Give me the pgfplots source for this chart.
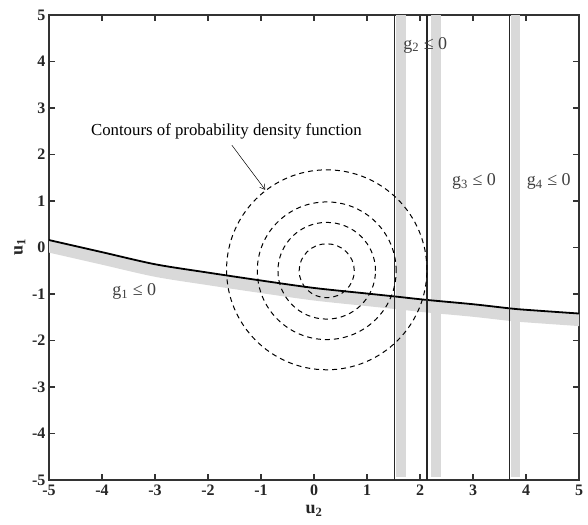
\documentclass[border=0pt]{standalone}
\usepackage{pgfplots}
\pgfplotsset{compat=1.18}
\usepgfplotslibrary{fillbetween}
\usepackage{fontspec}
\setmainfont{Liberation Serif}
\usetikzlibrary{arrows.meta}
\pgfplotstableread{
x y
-5 0.16
-4 -0.10
-3 -0.36
-2 -0.54
-1 -0.71
0 -0.87
1 -0.99
1.5 -1.05
2.15 -1.13
3 -1.22
3.7 -1.31
4 -1.34
5 -1.42
}\gone
\pgfplotstableread{
x y
-5 -0.11
-4 -0.37
-3 -0.63
-2 -0.81
-1 -0.98
0 -1.14
1 -1.26
1.5 -1.32
2.15 -1.40
3 -1.49
3.7 -1.58
4 -1.61
5 -1.69
}\goneband
\begin{document}
\begin{tikzpicture}
\begin{axis}[
  scale only axis, width=530pt, height=465pt,
  xmin=-5, xmax=5, ymin=-5, ymax=5,
  xtick={-5,...,5}, ytick={-5,...,5},
  tick align=inside, major tick length=6pt,
  axis line style={line width=1.1pt, black!80},
  tick style={line width=1.1pt, black!80},
  /pgf/number format/assume math mode=true,
  ticklabel style={font=\bfseries\fontsize{16}{16}\selectfont, text=black!85},
  xticklabel style={yshift=-1pt},
  xlabel={\textbf{u}\textsubscript{\textbf{2}}},
  ylabel={\textbf{u}\textsubscript{\textbf{1}}},
  label style={font=\fontsize{18}{18}\selectfont, text=black!85},
  xlabel style={yshift=-3pt},
  clip=true,
]
% hatched bands (gray)
\addplot[fill=gray!30, draw=none] coordinates {(1.55,-4.93) (1.74,-4.93) (1.74,5) (1.55,5)} -- cycle;
\addplot[fill=gray!30, draw=none] coordinates {(2.20,-4.93) (2.40,-4.93) (2.40,5) (2.20,5)} -- cycle;
\addplot[fill=gray!30, draw=none] coordinates {(3.72,-4.93) (3.89,-4.93) (3.89,5) (3.72,5)} -- cycle;
\addplot[name path=top, draw=none, forget plot, smooth] table {\gone};
\addplot[name path=bot, draw=none, forget plot, smooth] table {\goneband};
\addplot[fill=gray!30, draw=none] fill between[of=top and bot];
% constraint lines
\addplot[black, line width=1.8pt, smooth] table {\gone};
\addplot[black!85, line width=1.3pt] coordinates {(1.515,-5) (1.515,5)};
\addplot[black!85, line width=1.3pt] coordinates {(2.13,-5) (2.13,5)};
\addplot[black!85, line width=1.3pt] coordinates {(3.69,-5) (3.69,5)};
% contours
\draw[black, line width=1pt, dash pattern=on 5pt off 4pt] (axis cs:0.24,-0.5) ellipse [x radius=0.52, y radius=0.58];
\draw[black, line width=1pt, dash pattern=on 5pt off 4pt] (axis cs:0.24,-0.5) ellipse [x radius=0.92, y radius=1.04];
\draw[black, line width=1pt, dash pattern=on 5pt off 4pt] (axis cs:0.24,-0.5) ellipse [x radius=1.31, y radius=1.48];
\draw[black, line width=1pt, dash pattern=on 5pt off 4pt] (axis cs:0.24,-0.48) ellipse [x radius=1.89, y radius=2.15];
% annotations
\node[anchor=west, inner sep=0pt, font=\fontsize{16.8}{17}\selectfont] at (axis cs:-4.21,2.49) {Contours of probability density function};
\draw[black, line width=0.5pt, -{Straight Barb[length=5pt,width=6pt]}] (axis cs:-1.55,2.2) -- (axis cs:-0.92,1.24);
\node[font=\fontsize{18}{18}\selectfont, text=black!75, inner sep=0pt] at (axis cs:-3.39,-0.95) {g\textsubscript{1} ≤ 0};
\node[font=\fontsize{18}{18}\selectfont, text=black!75, inner sep=0pt] at (axis cs:2.1,4.35) {g\textsubscript{2} ≤ 0};
\node[font=\fontsize{18}{18}\selectfont, text=black!75, inner sep=0pt] at (axis cs:3.02,1.42) {g\textsubscript{3} ≤ 0};
\node[font=\fontsize{18}{18}\selectfont, text=black!75, inner sep=0pt] at (axis cs:4.43,1.42) {g\textsubscript{4} ≤ 0};
\end{axis}
\pgfresetboundingbox
\path ([shift={(-49pt,-44pt)}]current axis.south west) rectangle ([shift={(9pt,15pt)}]current axis.north east);
\end{tikzpicture}
\end{document}
